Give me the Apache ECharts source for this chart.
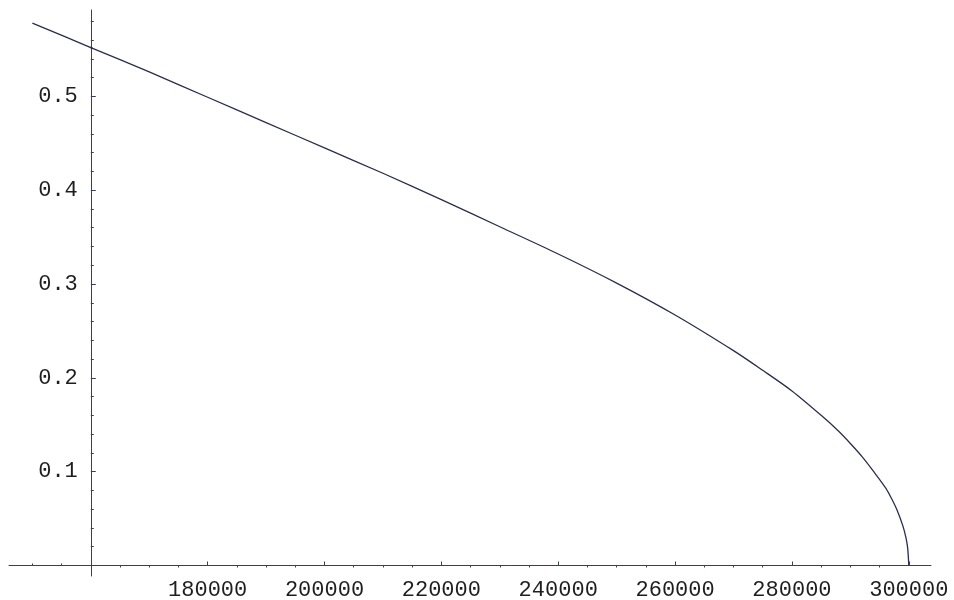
<!DOCTYPE html>
<html>
<head>
<meta charset="utf-8">
<script src="https://cdn.jsdelivr.net/npm/echarts@6/dist/echarts.min.js"></script>
<style>
  html, body { margin: 0; padding: 0; background: #fff; }
  #chart { width: 954px; height: 600px; }
</style>
</head>
<body>
<div id="chart"></div>
<script>
// curve values
var xValues = [150000, 160000, 170000, 180000, 190000, 200000, 210000, 220000, 230000, 240000,
               250000, 260000, 270000, 275000, 280000, 285000, 288000, 290000, 292000, 294000,
               296000, 297000, 298000, 299000, 299500, 299800, 300000];
var yValues = [0.578, 0.552, 0.526, 0.499, 0.472, 0.445, 0.418, 0.390, 0.361, 0.332,
               0.301, 0.267, 0.229, 0.208, 0.186, 0.160, 0.143, 0.130, 0.116, 0.100,
               0.083, 0.072, 0.059, 0.042, 0.030, 0.019, 0];

// axes
var xMajorTicks = [180000, 200000, 220000, 240000, 260000, 280000, 300000];
var xMinorTicks = [165000, 170000, 175000, 185000, 190000, 195000, 205000, 210000,
                   215000, 225000, 230000, 235000, 245000, 250000, 255000, 265000, 270000, 275000,
                   285000, 290000, 295000];
var xLeftTicks = [150000, 155000]; // minor ticks left of the vertical axis
var yMajorTicks = [0.1, 0.2, 0.3, 0.4, 0.5];
var yMinorTicks = [0.02, 0.04, 0.06, 0.08, 0.12, 0.14, 0.16, 0.18, 0.22, 0.24, 0.26, 0.28,
                   0.32, 0.34, 0.36, 0.38, 0.42, 0.44, 0.46, 0.48, 0.52, 0.54, 0.56, 0.58];
var xMin = 146000, xMax = 303800;
var axesCrossX = 160000; // vertical axis sits here
var yMin = -0.0112, yMax = 0.592;

var axisColor = '#3a3f58';
var textColor = '#1e1e1e';
var lineColor = '#2b2e4a';
var font = "'Liberation Mono', 'Courier New', monospace";

var chart = echarts.init(document.getElementById('chart'));

var points = xValues.map(function (x, i) { return [x, yValues[i]]; });
var plain = function (v) { return String(v); };

var curve = function (xi, yi) {
    return {
        type: 'line',
        xAxisIndex: xi,
        yAxisIndex: yi,
        data: points,
        smooth: 0.3,
        showSymbol: false,
        lineStyle: { color: lineColor, width: 1.3 }
    };
};

var option = {
    backgroundColor: '#ffffff',
    animation: false,
    grid: [
        // main area, left edge on the vertical axis
        { left: 90.8, right: 23, top: 10, bottom: 24, containLabel: false, outerBoundsMode: 'none' },
        // strip left of the vertical axis
        { left: 9, width: 81.8, top: 10, bottom: 24, containLabel: false, outerBoundsMode: 'none' }
    ],
    xAxis: [
        {
            gridIndex: 0,
            type: 'value',
            min: axesCrossX,
            max: xMax,
            axisLine: { show: true, onZero: true, lineStyle: { color: axisColor, width: 1 } },
            axisTick: { show: true, inside: true, length: 4, customValues: xMajorTicks, lineStyle: { color: axisColor } },
            axisLabel: { customValues: xMajorTicks, formatter: plain, color: textColor, fontFamily: font, fontSize: 22, margin: 3 },
            splitLine: { show: false }
        },
        {
            gridIndex: 1,
            type: 'value',
            min: xMin,
            max: axesCrossX,
            axisLine: { show: true, onZero: true, lineStyle: { color: axisColor, width: 1 } },
            axisTick: { show: true, inside: true, length: 2, customValues: xLeftTicks, lineStyle: { color: axisColor } },
            axisLabel: { show: false },
            splitLine: { show: false }
        },
        {
            gridIndex: 0,
            type: 'value',
            min: axesCrossX,
            max: xMax,
            axisLine: { show: false, onZero: true },
            axisTick: { show: true, inside: true, length: 2, customValues: xMinorTicks, lineStyle: { color: axisColor } },
            axisLabel: { show: false },
            splitLine: { show: false }
        }
    ],
    yAxis: [
        {
            gridIndex: 0,
            type: 'value',
            position: 'left',
            min: yMin,
            max: yMax,
            axisLine: { show: true, onZero: false, lineStyle: { color: axisColor, width: 1 } },
            axisTick: { show: true, inside: true, length: 5, customValues: yMajorTicks, lineStyle: { color: axisColor } },
            axisLabel: { customValues: yMajorTicks, formatter: plain, color: textColor, fontFamily: font, fontSize: 22, margin: 13 },
            splitLine: { show: false }
        },
        {
            gridIndex: 0,
            type: 'value',
            position: 'left',
            min: yMin,
            max: yMax,
            axisLine: { show: false, onZero: false },
            axisTick: { show: true, inside: true, length: 3, customValues: yMinorTicks, lineStyle: { color: axisColor } },
            axisLabel: { show: false },
            splitLine: { show: false }
        },
        {
            gridIndex: 1,
            type: 'value',
            show: false,
            min: yMin,
            max: yMax
        }
    ],
    series: [
        curve(0, 0),
        curve(1, 2)
    ]
};

chart.setOption(option);
</script>
</body>
</html>
